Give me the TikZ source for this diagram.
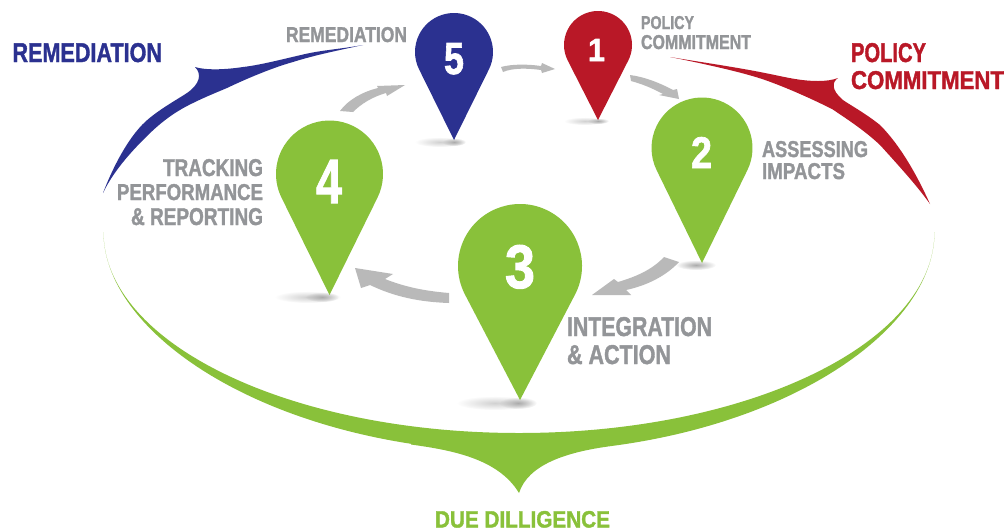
\documentclass[tikz,border=0pt]{standalone}
\usepackage{graphicx}
\usepackage{fontspec}
\setmainfont[BoldFeatures={FakeBold=1.6}]{Liberation Sans}
\usetikzlibrary{fadings}
\tikzfading[name=softglow,inner color=transparent!0,outer color=transparent!100]
\definecolor{pinblue}{HTML}{2B3190}
\definecolor{pinred}{HTML}{B91827}
\definecolor{pingreen}{HTML}{89C13A}
\definecolor{txtgray}{HTML}{939598}
\definecolor{arrgray}{HTML}{B9B9B9}
\tikzset{
  lbl/.style={inner sep=0pt,outer sep=0pt,anchor=base west,font=\bfseries},
  grayarrow/.style={fill=arrgray,draw=none},
  swoosh/.style={draw=none},
  tipshadow/.style={fill=black!33,path fading=softglow,draw=none},
  wideshadow/.style={fill=black!18,path fading=softglow,draw=none}
}
% name, left, right, top, bottom, colour, text
\newcommand{\fitlabel}[7]{%
  \pgfmathsetmacro{\lw}{#3-#2}\pgfmathsetmacro{\lh}{#5-#4}%
  \node[lbl,text=#6] (#1) at (#2,#5) {\resizebox{\lw pt}{\lh pt}{#7}};%
}
% name, cx, cy, r, tip y, colour
\newcommand{\mappin}[6]{%
  \pgfmathsetmacro{\pa}{asin(#4/(#5-#3))}%
  \pgfmathsetmacro{\pe}{-180-\pa}%
  \fill[#6] (#2,#5) -- ({#2+#4*cos(\pa)},{#3+#4*sin(\pa)})
     arc[start angle=\pa,end angle=\pe,radius=#4] -- cycle;%
}
\begin{document}
\begin{tikzpicture}[x=1pt,y=-1pt]
\useasboundingbox (0,0) rectangle (1008,531);
\fill[white] (0,0) rectangle (1008,531);

% swooshes
\fill[pinblue,swoosh] (363,45) .. controls (340,49) and (325,50) .. (310,53)
  .. controls (295,56) and (262,65) .. (243,67)
  .. controls (230,69) and (208,71) .. (195,67)
  .. controls (202,74) and (200,84) .. (187,93)
  .. controls (178,99) and (158,110) .. (145,122)
  .. controls (128,138) and (113,167) .. (103,193)
  .. controls (113,172) and (130,153) .. (145,138)
  .. controls (158,125) and (172,113) .. (193,103)
  .. controls (205,97) and (220,91) .. (227,88)
  .. controls (250,77) and (275,67) .. (293,62)
  .. controls (315,55) and (340,50) .. (363,45) -- cycle;
\fill[pinred,swoosh] (670,57) .. controls (700,62) and (735,67) .. (765,73)
  .. controls (785,77) and (800,81) .. (818,81)
  .. controls (826,81) and (833,80) .. (838,78)
  .. controls (832,82) and (831,90) .. (843,100)
  .. controls (850,105) and (865,113) .. (880,125)
  .. controls (900,145) and (917,175) .. (930,204)
  .. controls (918,187) and (900,167) .. (880,145)
  .. controls (865,131) and (850,121) .. (832,109)
  .. controls (810,98) and (785,87) .. (765,80)
  .. controls (745,73) and (710,65) .. (670,57) -- cycle;
\fill[pingreen,swoosh] (103.5,232)
  .. controls (103.5,343) and (289,433) .. (519,433)
  .. controls (749,433) and (934.5,343) .. (934.5,232)
  -- plot[domain=0:77,samples=60] ({519+415.5*cos(\x)},{232+(201+19*sin(\x))*sin(\x)})
  .. controls (565,452) and (528,465) .. (519,493)
  .. controls (498,458) and (450,450) .. (411,444.5)
  -- plot[domain=105:180,samples=60] ({519+415.5*cos(\x)},{232+(201+19*sin(\x))*sin(\x)})
  -- cycle;

% tip shadows
\fill[wideshadow] (308,297) ellipse [x radius=33,y radius=6];
\fill[tipshadow] (322,297) ellipse [x radius=17,y radius=5];
\fill[wideshadow] (495,403) ellipse [x radius=38,y radius=7];
\fill[tipshadow] (518,403) ellipse [x radius=19,y radius=6];
\fill[wideshadow] (440,142) ellipse [x radius=25,y radius=5];
\fill[tipshadow] (454,142) ellipse [x radius=12,y radius=4];
\fill[wideshadow] (585,121) ellipse [x radius=21,y radius=4];
\fill[tipshadow] (598,121) ellipse [x radius=11,y radius=3];
\fill[tipshadow] (696,265) ellipse [x radius=20,y radius=5];

% gray cycle arrows
\fill[grayarrow] (501,67) .. controls (512,64) and (527,64) .. (541,66) -- (542,63) -- (555,69)
  -- (542,73) -- (541,70) .. controls (527,68) and (512,68) .. (503,72) -- cycle;
\fill[grayarrow] (630,75) .. controls (645,77) and (660,83) .. (673,90) -- (677,89) -- (679,99)
  -- (659,95) -- (663,94) .. controls (652,88) and (642,84) .. (631,81) -- cycle;
\fill[grayarrow] (664,257) .. controls (652,270) and (635,277) .. (618,282) -- (614,279) -- (592,295)
  -- (631,295) -- (626,290) .. controls (645,286) and (665,277) .. (679,262) -- cycle;
\fill[grayarrow] (449,293) .. controls (425,291) and (405,287) .. (385,279) -- (393,274) -- (355,268)
  -- (361,288) -- (370,285) .. controls (395,297) and (420,302) .. (449,303) -- cycle;
\fill[grayarrow] (340,111) .. controls (348,100) and (362,92) .. (378,88) -- (377,86) -- (405,85)
  -- (387,96) -- (386,93) .. controls (372,97) and (361,104) .. (353,112) -- cycle;

% pins
\mappin{pin5}{454}{52}{39}{140}{pinblue}
\mappin{pin1}{598}{45}{34}{120}{pinred}
\mappin{pin2}{702}{148}{50.5}{263}{pingreen}
\mappin{pin3}{520}{266}{62}{400}{pingreen}
\mappin{pin4}{329.5}{174}{53.5}{295}{pingreen}

% numbers
\fitlabel{num5}{444}{464}{43}{74}{white}{5}
\fitlabel{num1}{588}{605}{39}{61}{white}{1}
\fitlabel{num2}{691}{712}{137}{168}{white}{2}
\fitlabel{num3}{505}{535}{245}{288}{white}{3}
\fitlabel{num4}{316}{342}{160}{203}{white}{4}

% outer labels
\fitlabel{remB}{12.5}{162}{43}{62}{pinblue}{REMEDIATION}
\fitlabel{polR}{851}{926}{43}{62}{pinred}{POLICY}
\fitlabel{comR}{851}{1004}{71}{89}{pinred}{COMMITMENT}
\fitlabel{due}{435}{610}{511}{527.5}{pingreen}{DUE DILLIGENCE}

% inner labels
\fitlabel{remG}{286}{407}{27}{42}{txtgray}{REMEDIATION}
\fitlabel{polG}{641}{694}{16}{29}{txtgray}{POLICY}
\fitlabel{comG}{641}{751}{35}{49}{txtgray}{COMMITMENT}
\fitlabel{assG}{762}{868}{141}{157}{txtgray}{ASSESSING}
\fitlabel{impG}{762}{845}{163}{179}{txtgray}{IMPACTS}
\fitlabel{intG}{567}{712}{317}{336}{txtgray}{INTEGRATION}
\fitlabel{actG}{567}{671}{345}{364}{txtgray}{\& ACTION}
\fitlabel{traG}{163}{263}{159}{176}{txtgray}{TRACKING}
\fitlabel{perG}{117}{263}{184}{200}{txtgray}{PERFORMANCE}
\fitlabel{repG}{131}{263}{208}{225}{txtgray}{\& REPORTING}
\end{tikzpicture}
\end{document}
